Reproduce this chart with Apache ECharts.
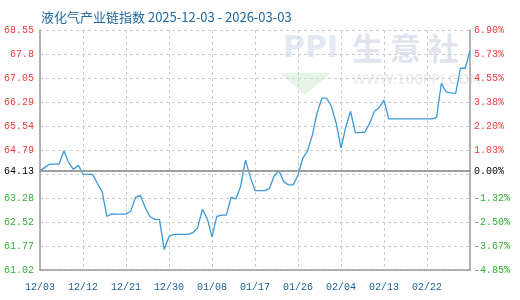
<!DOCTYPE html>
<html>
<head>
<meta charset="utf-8">
<script src="https://cdn.jsdelivr.net/npm/echarts@6/dist/echarts.min.js"></script>
<style>html,body{margin:0;padding:0;background:#fff;}#c{width:520px;height:300px;}</style>
</head>
<body>
<div id="c"></div>
<script>
const titleText = '液化气产业链指数 2025-12-03 - 2026-03-03';
const dates = [
'12/03','12/04','12/05','12/06','12/07','12/08','12/09','12/10','12/11','12/12','12/13','12/14','12/15','12/16','12/17','12/18','12/19','12/20','12/21','12/22','12/23','12/24','12/25','12/26','12/27','12/28','12/29','12/30','12/31',
'01/01','01/02','01/03','01/04','01/05','01/06','01/07','01/08','01/09','01/10','01/11','01/12','01/13','01/14','01/15','01/16','01/17','01/18','01/19','01/20','01/21','01/22','01/23','01/24','01/25','01/26','01/27','01/28','01/29','01/30','01/31',
'02/01','02/02','02/03','02/04','02/05','02/06','02/07','02/08','02/09','02/10','02/11','02/12','02/13','02/14','02/15','02/16','02/17','02/18','02/19','02/20','02/21','02/22','02/23','02/24','02/25','02/26','02/27','02/28',
'03/01','03/02','03/03'
];
const values = [
64.13,64.24,64.34,64.34,64.34,64.76,64.39,64.18,64.31,64.03,
64.02,64.02,63.74,63.48,62.70,62.78,62.77,62.77,62.77,62.87,
63.30,63.36,62.99,62.70,62.61,62.61,61.66,62.07,62.14,62.14,
62.14,62.14,62.19,62.35,62.93,62.63,62.06,62.70,62.74,62.74,
63.30,63.25,63.65,64.47,63.95,63.51,63.51,63.51,63.57,63.97,
64.14,63.80,63.69,63.69,64.00,64.52,64.76,65.25,65.95,66.41,
66.41,66.15,65.62,64.85,65.50,66.00,65.33,65.33,65.35,65.62,
66.00,66.12,66.35,65.76,65.76,65.76,65.76,65.76,65.76,65.76,
65.76,65.76,65.76,65.80,66.88,66.61,66.58,66.56,67.35,67.35,
67.90
];
const baseValue = 64.13;
const baseLabelLeft = '64.13';
const baseLabelRight = '0.00%';
const axisMin = 61.02;
const axisMax = 68.55;
const axisStep = 0.753;
const leftLabels = ['61.02','61.77','62.52','63.28','','64.79','65.54','66.29','67.05','67.8','68.55'];
const rightLabels = ['-4.85%','-3.67%','-2.50%','-1.32%','','1.03%','2.20%','3.38%','4.55%','5.73%','6.90%'];

const RED = '#f03a3a', GREEN = '#36ad36', BLACK = '#000';
const monoFont = 'Liberation Mono';
function labelColor(v, i) { return i > 4 ? RED : (i < 4 ? GREEN : BLACK); }

const chart = echarts.init(document.getElementById('c'), null, {renderer: 'canvas'});
chart.setOption({
  animation: false,
  backgroundColor: '#fff',
  title: {
    text: titleText, left: 36, top: 6,
    textStyle: {fontSize: 13, fontWeight: 'normal', color: '#23699f', fontFamily: 'Noto Sans CJK SC'}
  },
  graphic: [
    {type: 'polygon', silent: true, z: 0, shape: {points: [[280, 73], [330, 73], [305, 95]]}, style: {fill: '#e6f4e6'}},
    {type: 'text', silent: true, z: 0, left: 283, top: 34, style: {text: 'PPI', fontSize: 30, fontWeight: 'bold', fill: '#e3e9f3', fontFamily: 'DejaVu Sans'}},
    {type: 'text', silent: true, z: 0, left: 352, top: 33, style: {text: '生 意 社', fontSize: 31, fontWeight: 'bold', fill: '#dfe4ee', fontFamily: 'Noto Sans CJK SC'}},
    {type: 'text', silent: true, z: 0, left: 352, top: 73, style: {text: 'WWW.100PPI.COM', fontSize: 14, fill: '#e8e8e8', fontFamily: 'DejaVu Sans'}}
  ],
  grid: {left: 40, right: 50, top: 30, bottom: 30, containLabel: false},
  xAxis: {
    type: 'category', data: dates, boundaryGap: false,
    axisLine: {lineStyle: {color: '#999', width: 1.5}},
    axisTick: {show: false},
    axisLabel: {
      interval: function (i) { return i % 9 === 0 && i < dates.length - 1; },
      color: '#1b5f92', fontSize: 10, fontFamily: monoFont, margin: 12
    },
    splitLine: {
      show: true,
      interval: function (i) { return i % 9 === 0 && i > 0 && i < dates.length - 1; },
      lineStyle: {color: '#ccc', type: [3, 3], width: 1}
    }
  },
  yAxis: [
    {
      type: 'value', min: axisMin, max: axisMax, interval: axisStep, position: 'left',
      axisLine: {show: true, lineStyle: {color: '#999', width: 1.5}},
      axisTick: {show: false},
      axisLabel: {
        formatter: function (v, i) { return leftLabels[i]; },
        color: labelColor, fontSize: 10, fontFamily: monoFont, margin: 6
      },
      splitLine: {show: true, lineStyle: {color: '#ccc', type: [3, 3], width: 1}}
    },
    {
      type: 'value', min: axisMin, max: axisMax, interval: axisStep, position: 'right',
      axisLine: {show: true, lineStyle: {color: '#999', width: 1.5}},
      axisTick: {show: false},
      axisLabel: {
        formatter: function (v, i) { return rightLabels[i]; },
        color: labelColor, fontSize: 10, fontFamily: monoFont, margin: 4
      },
      splitLine: {show: false}
    }
  ],
  series: [{
    type: 'line', data: values, yAxisIndex: 0,
    symbol: 'none', smooth: false,
    lineStyle: {color: '#3a9ad9', width: 1.3},
    markLine: {
      silent: true, symbol: 'none',
      lineStyle: {color: '#999', type: 'solid', width: 1.5},
      data: [
        {yAxis: baseValue, label: {position: 'start', formatter: baseLabelLeft, color: BLACK, fontSize: 10, fontFamily: monoFont, distance: 6}},
        {yAxis: baseValue, label: {position: 'end', formatter: baseLabelRight, color: BLACK, fontSize: 10, fontFamily: monoFont, distance: 4}}
      ]
    }
  }]
});
</script>
</body>
</html>
